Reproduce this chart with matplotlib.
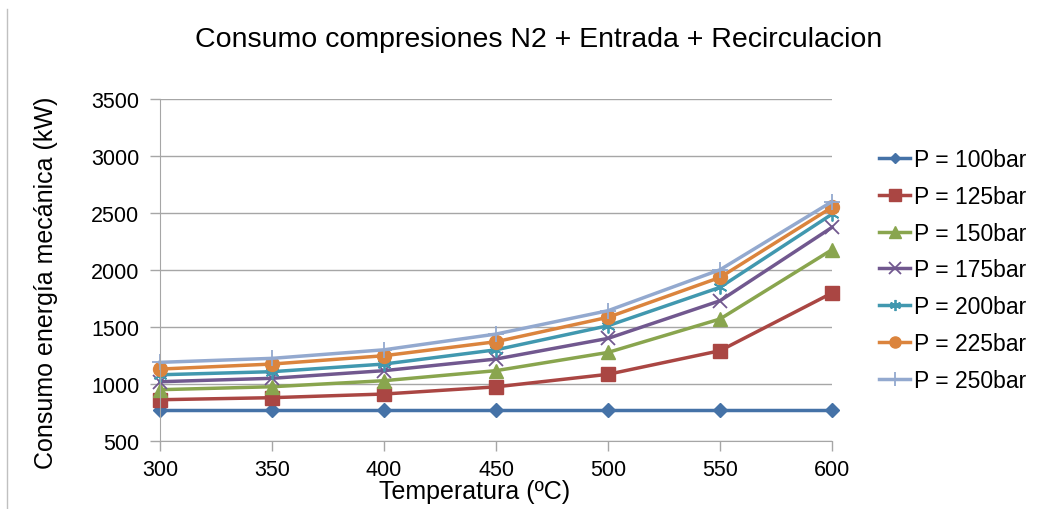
import matplotlib
matplotlib.use('Agg')
from matplotlib import pyplot as plt
from matplotlib.lines import Line2D

temps = [300, 350, 400, 450, 500, 550, 600]
labels = ['P = 100bar', 'P = 125bar', 'P = 150bar', 'P = 175bar',
          'P = 200bar', 'P = 225bar', 'P = 250bar']
p100 = [770, 770, 770, 770, 770, 770, 770]
p125 = [862, 880, 912, 975, 1085, 1292, 1798]
p150 = [950, 976, 1029, 1117, 1277, 1570, 2178]
p175 = [1020, 1050, 1117, 1219, 1400, 1730, 2374]
p200 = [1081, 1108, 1175, 1300, 1511, 1848, 2490]
p225 = [1131, 1175, 1248, 1371, 1585, 1935, 2550]
p250 = [1190, 1225, 1300, 1438, 1643, 2002, 2600]
series = [p100, p125, p150, p175, p200, p225, p250]

colors = ['#4572A7', '#AA4643', '#89A54E', '#71588F', '#4198AF', '#DB843D', '#93A9CF']
markers = ['D', 's', '^', 'x', '*', 'o', '+']
msizes = [7, 10, 10, 10, 10, 10, 12]

plt.rcParams['font.family'] = ['Liberation Sans', 'DejaVu Sans']

fig = plt.figure(figsize=(10.58, 5.10), dpi=100)
ax = fig.add_axes([160/1058, 1-442/510, (832-160)/1058, (442-100)/510])

for vals, lab, c, m, ms in zip(series, labels, colors, markers, msizes):
    if m in ('x', '+'):
        ax.plot(temps, vals, color=c, lw=2.5, marker=m, ms=ms, mew=1.3, label=lab, clip_on=False)
    elif m == '*':
        ax.plot(temps, vals, color=c, lw=2.5, marker=(6, 2, 0), ms=ms, mew=1.3,
                mec=c, label=lab, clip_on=False)
    else:
        ax.plot(temps, vals, color=c, lw=2.5, marker=m, ms=ms, label=lab, clip_on=False)

ax.set_xlim(300, 600)
ax.set_ylim(500, 3500)
ax.set_xticks(temps)
ax.set_yticks(range(500, 3501, 500))
ax.grid(axis='y', color='#a6a6a6', lw=1)
ax.set_axisbelow(True)
for s in ['top', 'right']:
    ax.spines[s].set_visible(False)
for s in ['left', 'bottom']:
    ax.spines[s].set_color('#a6a6a6')
ax.tick_params(axis='both', colors='#a6a6a6', length=7, width=1, labelcolor='black',
               labelsize=15.5)
ax.tick_params(axis='y', pad=8)
ax.tick_params(axis='x', pad=6)

ax.set_xlabel('Temperatura (ºC)', fontsize=18, va='center')
ax.xaxis.set_label_coords((475-160)/672, -(492-442)/342)
ax.set_ylabel('Consumo energía mecánica (kW)', fontsize=18, va='center')
ax.yaxis.set_label_coords(-(160-46)/672, (442-283)/342)
fig.suptitle('Consumo compresiones N2 + Entrada + Recirculacion', fontsize=20.5,
             x=539/1058, y=1-40/510, va='center')

leg = fig.legend(loc='upper left', bbox_to_anchor=(870/1058, 1-140/510), frameon=False,
                 fontsize=16.5, handlelength=1.35, handletextpad=0.15, labelspacing=0.6,
                 borderaxespad=0, markerscale=0.8)

fig.add_artist(Line2D([7/1058, 7/1058], [0, 1-10/510], color='#c0c0c0', lw=1,
                      transform=fig.transFigure))

fig.savefig('out.png', dpi=100)
